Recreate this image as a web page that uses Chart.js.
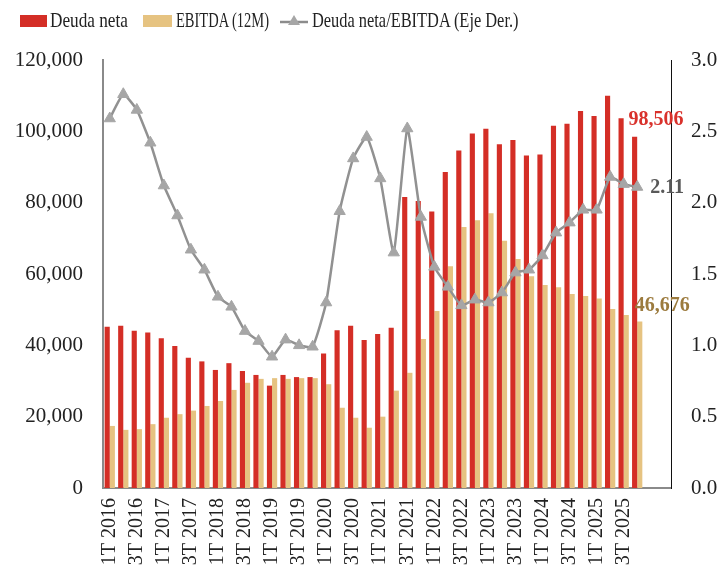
<!DOCTYPE html>
<html>
<head>
<meta charset="utf-8">
<script src="https://cdn.jsdelivr.net/npm/chart.js@4"></script>
<style>
  html, body { margin: 0; padding: 0; background: #fff; }
  #wrap { position: relative; width: 722px; height: 573px; }
  canvas { position: absolute; left: 0; top: 0; }
  .lg { position: absolute; top: 8px; font-family: "Liberation Serif", serif; font-size: 21px; color: #222; white-space: nowrap; line-height: 24px; transform-origin: 0 0; }
  .sw { position: absolute; }
</style>
</head>
<body>
<div id="wrap">
  <canvas id="c" width="722" height="573"></canvas>
  <div class="sw" style="left:20px;top:15px;width:27px;height:12px;background:#d42e26"></div>
  <div class="lg" style="left:50px;transform:scaleX(0.82)">Deuda neta</div>
  <div class="sw" style="left:143px;top:15px;width:29px;height:12px;background:#e6c381"></div>
  <div class="lg" style="left:176px;transform:scaleX(0.69)">EBITDA (12M)</div>
  <svg class="sw" style="left:280px;top:12px" width="28" height="18">
    <line x1="0" y1="10" x2="28" y2="10" stroke="#8c8c8c" stroke-width="2.5"/>
    <polygon points="14,3 20,13 8,13" fill="#a6a6a6"/>
  </svg>
  <div class="lg" style="left:312px;transform:scaleX(0.78)">Deuda neta/EBITDA (Eje Der.)</div>
</div>
<script>
const quarters = ['1T 2016','2T 2016','3T 2016','4T 2016','1T 2017','2T 2017','3T 2017','4T 2017',
  '1T 2018','2T 2018','3T 2018','4T 2018','1T 2019','2T 2019','3T 2019','4T 2019',
  '1T 2020','2T 2020','3T 2020','4T 2020','1T 2021','2T 2021','3T 2021','4T 2021',
  '1T 2022','2T 2022','3T 2022','4T 2022','1T 2023','2T 2023','3T 2023','4T 2023',
  '1T 2024','2T 2024','3T 2024','4T 2024','1T 2025','2T 2025','3T 2025','4T 2025','',''];

const deudaNeta = [45200,45500,44100,43600,42000,39800,36500,35500,33100,35000,32800,31700,28700,31700,31100,31100,
  37700,44200,45500,41500,43200,44900,81600,80500,77500,88600,94600,99400,100700,96400,97600,93200,
  93500,101600,102100,105700,104300,110000,103700,98506];

const ebitda = [17400,16300,16500,17900,19700,20700,21700,23000,24400,27500,29500,30600,30800,30600,30800,30800,
  29100,22500,19700,16900,20000,27300,32300,41800,49600,62200,73200,75100,77000,69300,64200,59400,
  56900,56300,54400,53800,53100,50200,48500,46676];

const ratio = [2.59,2.76,2.65,2.42,2.12,1.91,1.67,1.53,1.34,1.27,1.10,1.03,0.92,1.04,1.00,0.99,
  1.30,1.94,2.31,2.46,2.17,1.65,2.52,1.90,1.55,1.41,1.28,1.32,1.30,1.37,1.51,1.53,
  1.63,1.79,1.86,1.95,1.95,2.18,2.13,2.11];

const leftTicks = [0,20000,40000,60000,80000,100000,120000];
const rightTicks = [0,0.5,1.0,1.5,2.0,2.5,3.0];

const FONT = '"Liberation Serif", serif';
const PAD = {left: 0, right: 0, top: 60, bottom: 0};

const endLabels = {
  id: 'endLabels',
  afterDatasetsDraw(chart) {
    const ctx = chart.ctx;
    const last = deudaNeta.length - 1;
    const mRed = chart.getDatasetMeta(1).data[last];
    const mTan = chart.getDatasetMeta(2).data[last];
    const mLine = chart.getDatasetMeta(0).data[last];
    ctx.save();
    ctx.font = 'bold 20px ' + FONT;
    ctx.textBaseline = 'middle';
    ctx.textAlign = 'left';
    ctx.fillStyle = '#d9312b';
    ctx.fillText(deudaNeta[last].toLocaleString('en-US'), mRed.x - 6, mRed.y - 17);
    ctx.fillStyle = '#595959';
    ctx.fillText(ratio[last].toFixed(2), mLine.x + 13, mLine.y + 1);
    ctx.fillStyle = '#9c7b3e';
    ctx.fillText(ebitda[last].toLocaleString('en-US'), mTan.x - 5, mTan.y - 16);
    ctx.restore();
  }
};

new Chart(document.getElementById('c'), {
  data: {
    labels: quarters,
    datasets: [
      {
        type: 'line', label: 'Deuda neta/EBITDA (Eje Der.)', data: ratio, yAxisID: 'y1', order: 0,
        borderColor: '#919191', borderWidth: 2.5, tension: 0.15,
        pointStyle: 'triangle', pointRadius: 6.5, pointBackgroundColor: '#a6a6a6', pointBorderColor: '#a6a6a6', pointBorderWidth: 1
      },
      {
        type: 'bar', label: 'Deuda neta', data: deudaNeta, yAxisID: 'y', order: 1,
        backgroundColor: '#d42e26', categoryPercentage: 0.76, barPercentage: 1.0
      },
      {
        type: 'bar', label: 'EBITDA (12M)', data: ebitda, yAxisID: 'y', order: 2,
        backgroundColor: '#e6c381', categoryPercentage: 0.76, barPercentage: 1.0
      }
    ]
  },
  options: {
    responsive: false, animation: false, devicePixelRatio: 1,
    layout: { padding: PAD },
    plugins: { legend: { display: false }, tooltip: { enabled: false } },
    scales: {
      x: {
        offset: true,
        grid: { display: false, drawTicks: false },
        border: { display: true, color: '#8a8a8a', width: 2 },
        ticks: {
          autoSkip: false, maxRotation: 90, minRotation: 90, padding: 10,
          font: { family: FONT, size: 20 }, color: '#222',
          callback: function(v, i) { return i % 2 === 0 ? quarters[i] : ''; }
        },
        afterFit: function(s) { s.height = 573 - 488; }
      },
      y: {
        position: 'left', min: 0, max: 120000,
        grid: { display: false, drawTicks: false },
        border: { display: true, color: '#8a8a8a', width: 2 },
        afterBuildTicks: function(s) { s.ticks = leftTicks.map(v => ({ value: v })); },
        ticks: {
          padding: 20, font: { family: FONT, size: 21 }, color: '#222',
          callback: v => v.toLocaleString('en-US')
        },
        afterFit: function(s) { s.width = 103; }
      },
      y1: {
        position: 'right', min: 0, max: 3,
        grid: { display: false, drawTicks: false },
        border: { display: true, color: '#111', width: 1 },
        afterBuildTicks: function(s) { s.ticks = rightTicks.map(v => ({ value: v })); },
        ticks: {
          padding: 20, font: { family: FONT, size: 21 }, color: '#222',
          callback: v => v.toFixed(1)
        },
        afterFit: function(s) { s.width = 722 - 671; }
      }
    }
  },
  plugins: [endLabels]
});
</script>
</body>
</html>
